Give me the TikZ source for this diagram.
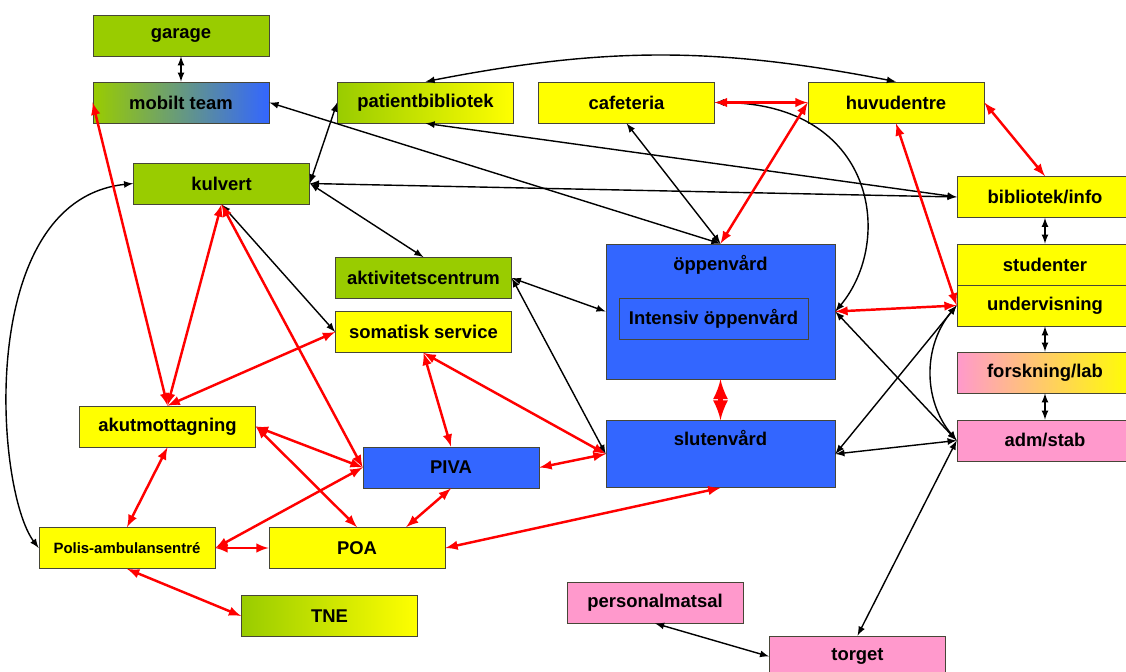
\documentclass[tikz,border=0pt]{standalone}
\usepackage{fontspec}
\setmainfont{Liberation Sans}

\definecolor{leaf}{RGB}{153,204,0}
\definecolor{lemon}{RGB}{255,255,0}
\definecolor{sky}{RGB}{51,102,255}
\definecolor{rose}{RGB}{255,153,204}
\definecolor{edge}{RGB}{70,70,55}

\tikzset{
  txt/.style={font=\bfseries\fontsize{10.5}{12}\selectfont},
  box/.style={txt, draw=edge, inner sep=0pt, minimum width=3.52cm, minimum height=0.82cm},
  grn/.style={box, fill=leaf},
  ylw/.style={box, fill=lemon},
  blu/.style={box, fill=sky},
  pnk/.style={box, fill=rose},
  link/.style={latex-latex, line width=0.8pt},
  hot/.style={latex-latex, line width=1.4pt, red},
}

\begin{document}
\begin{tikzpicture}[x=0.02cm,y=0.02cm]
\useasboundingbox (0,0) rectangle (1126,-672);
\clip (0,0) rectangle (1126,-672);

\node[grn] (gar) at (181,-35.5) {garage};
\node[box, left color=leaf, right color=sky] (mob) at (181,-102.5) {mobilt team};
\node[grn] (kul) at (221.5,-183.5) {kulvert};
\node[box, left color=leaf, right color=lemon] (patb) at (425.5,-102.5) {patientbibliotek};
\node[ylw] (cafe) at (626.5,-102.5) {cafeteria};
\node[ylw] (huv) at (896,-102.5) {huvudentre};
\node[ylw] (bib) at (1045,-197) {bibliotek/info};
\node[ylw] (stu) at (1045,-264.5) {studenter};
\node[ylw] (und) at (1045,-305.5) {undervisning};
\node[box, left color=rose, right color=lemon] (fors) at (1045,-372.5) {forskning/lab};
\node[pnk] (adm) at (1045,-440.5) {adm/stab};
\node[grn] (akt) at (423.5,-278) {aktivitetscentrum};
\node[ylw] (som) at (423.5,-332) {somatisk service};
\node[blu, minimum width=4.58cm, minimum height=2.7cm,
  label={[txt, below=0.1cm]north:öppenvård}] (oppen) at (720.5,-311.5) {};
\node[blu, minimum width=3.78cm] (int) at (713.5,-318.5) {Intensiv öppenvård};
\node[blu, minimum width=4.58cm, minimum height=1.34cm,
  label={[txt, below=0.07cm]north:slutenvård}] (slut) at (720.5,-454) {};
\node[ylw] (akut) at (167.5,-426.5) {akutmottagning};
\node[blu] (piva) at (451,-467.5) {PIVA};
\node[ylw, font=\bfseries\fontsize{8.5}{10}\selectfont] (pol) at (127,-548) {Polis-ambulansentré};
\node[ylw] (poa) at (357,-548) {POA};
\node[box, left color=leaf, right color=lemon] (tne) at (329.5,-616) {TNE};
\node[pnk] (pers) at (655,-602.5) {personalmatsal};
\node[pnk] (torg) at (857.5,-656.5) {torget};

\foreach \u/\v in {gar/mob, bib/stu, und/fors, fors/adm}
  \draw[link] (\u.south) -- (\v.north);
\draw[link] (patb.north) to[bend left=11] (huv.north);
\draw[link] (mob.east) -- (oppen.north);
\draw[link] (patb.south) -- (bib.west);
\draw[link] (kul.east) -- (bib.west);
\draw[link] (kul.east) -- (patb.west);
\draw[link] (kul.east) -- (akt.north);
\draw[link] (kul.south) -- (som.west);
\draw[link] (kul.west) .. controls (-25,-200) and (-5,-490) .. (pol.west);
\draw[link] (cafe.south) -- (oppen.north);
\draw[link] (cafe.east) .. controls (875,-103) and (895,-240) .. (oppen.east);
\draw[link] (akt.east) -- (oppen.west);
\draw[link] (akt.east) -- (slut.west);
\draw[link] (oppen.east) -- (adm.west);
\draw[link] (und.west) -- (slut.east);
\draw[link] (adm.west) -- (slut.east);
\draw[link] (adm.west) to[bend left=40] (und.west);
\draw[link] (adm.west) -- (torg.north);
\draw[link] (pers.south) -- (torg.west);

\foreach \u/\v in {cafe.east/huv.west, huv.west/oppen.north, huv.east/bib.north,
    huv.south/und.west, oppen.east/und.west, mob.west/akut.north,
    kul.south/akut.north, kul.south/piva.west, akut.north/som.west,
    som.south/piva.north, som.south/slut.west, akut.east/piva.west,
    akut.east/poa.north, akut.south/pol.north, pol.east/piva.west,
    pol.east/poa.west, pol.south/tne.west, piva.south/poa.23,
    piva.east/slut.west, poa.east/slut.south}
  \draw[hot] (\u) -- (\v);
\draw[hot, line width=2.8pt] (oppen.south) -- (slut.north);
\end{tikzpicture}
\end{document}
